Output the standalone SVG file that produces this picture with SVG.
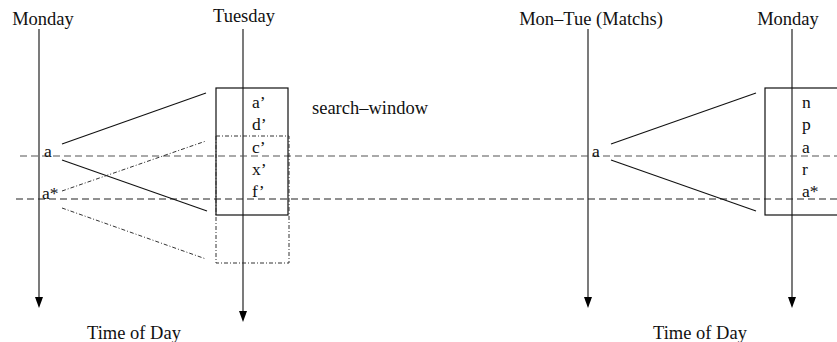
<svg xmlns="http://www.w3.org/2000/svg" width="837" height="342" viewBox="0 0 837 342">
<style>
text{font-family:"Liberation Serif","Times New Roman",serif;font-size:18.5px;fill:#111}
.sm{font-size:17.5px}
.ax{stroke:#333;stroke-width:1.3;fill:none}
.ln{stroke:#111;stroke-width:1.1;fill:none}
.dd{stroke:#333;stroke-width:1;fill:none;stroke-dasharray:4 2 1 2}
.hd{stroke:#555;stroke-width:1.2;fill:none;stroke-dasharray:7 4}
.hd2{stroke:#222;stroke-width:1.1;fill:none;stroke-dasharray:7 4}
.bx{stroke:#111;stroke-width:1.2;fill:none}
</style>
<g id="axes">
<line class="ax" x1="39" y1="29" x2="39" y2="297"/>
<path d="M35,297 L43,297 L39,308 Z" fill="#000"/>
<line class="ax" x1="243" y1="29" x2="243" y2="311"/>
<path d="M239,311 L247,311 L243,322 Z" fill="#000"/>
<line class="ax" x1="588" y1="29" x2="588" y2="297"/>
<path d="M584,297 L592,297 L588,308 Z" fill="#000"/>
<line class="ax" x1="792" y1="29" x2="792" y2="297"/>
<path d="M788,297 L796,297 L792,308 Z" fill="#000"/>
</g>
<g id="labels">
<text x="43" y="25" text-anchor="middle">Monday</text>
<text x="244" y="22" text-anchor="middle">Tuesday</text>
<text x="591" y="25" text-anchor="middle">Mon–Tue (Matchs)</text>
<text x="788" y="25" text-anchor="middle">Monday</text>
<text x="134" y="339" text-anchor="middle">Time of Day</text>
<text x="700" y="339" text-anchor="middle">Time of Day</text>
<text x="312" y="114">search–window</text>
</g>
<g id="connectors">
<line class="hd" x1="20" y1="156" x2="837" y2="156"/>
<line class="hd2" x1="16" y1="199" x2="837" y2="199"/>
<line class="ln" x1="62" y1="144" x2="206" y2="93"/>
<line class="ln" x1="62" y1="160" x2="207" y2="211"/>
<line class="dd" x1="62" y1="191" x2="206" y2="141"/>
<line class="dd" x1="62" y1="208" x2="206" y2="259"/>
<line class="ln" x1="611" y1="144" x2="756" y2="93"/>
<line class="ln" x1="611" y1="160" x2="756" y2="211"/>
</g>
<g id="tuesday-window">
<rect class="bx" x="216" y="88" width="72" height="127"/>
<rect class="dd" x="216" y="136" width="73" height="127"/>
<text class="sm" x="252" y="108">a’</text>
<text class="sm" x="252" y="130">d’</text>
<text class="sm" x="252" y="153">c’</text>
<text class="sm" x="252" y="175">x’</text>
<text class="sm" x="252" y="197">f’</text>
</g>
<g id="monday-window">
<rect class="bx" x="765" y="88" width="80" height="127"/>
<text class="sm" x="802" y="108">n</text>
<text class="sm" x="802" y="130">p</text>
<text class="sm" x="802" y="153">a</text>
<text class="sm" x="802" y="175">r</text>
<text class="sm" x="802" y="197">a*</text>
</g>
<g id="points">
<text class="sm" x="44" y="157">a</text>
<text class="sm" x="42" y="199">a*</text>
<text class="sm" x="592" y="157">a</text>
</g>
</svg>
